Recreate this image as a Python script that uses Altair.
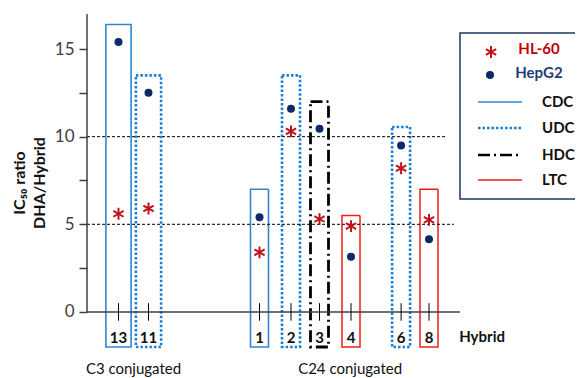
import altair as alt
import pandas as pd

# ---------------- data ----------------
hybrids = ["13", "11", "1", "2", "3", "4", "6", "8"]
positions = [1.05, 2.05, 5.75, 6.8, 7.75, 8.8, 10.47, 11.4]
groups = ["C3", "C3", "C24", "C24", "C24", "C24", "C24", "C24"]
box_types = ["CDC", "UDC", "CDC", "UDC", "HDC", "LTC", "UDC", "LTC"]
box_tops = [16.4, 13.5, 7.0, 13.5, 12.0, 5.5, 10.55, 7.0]
hl60 = [5.6, 5.9, 3.4, 10.3, 5.3, 4.9, 8.2, 5.25]
hepg2 = [15.4, 12.5, 5.4, 11.6, 10.45, 3.15, 9.5, 4.15]

group_labels = ["C3 conjugated", "C24 conjugated"]
group_centers = [1.55, 8.77]
thresholds = [5, 10]
threshold_ends = [12.23, 11.97]
y_ticks = [0, 2.5, 5, 7.5, 10, 12.5, 15]
series_labels = ["HL-60", "HepG2"]
type_labels = ["CDC", "UDC", "HDC", "LTC"]
y_title = ["IC\u2085\u2080 ratio", "DHA/Hybrid"]

# ---------------- styles ----------------
FONT = "Lato"
RED = "#c0141c"
NAVY = "#0c2a66"
AXIS = "#404040"
half_width = {"C3": 0.42, "C24": 0.3}
box_bottom = -2.0
type_style = {
    "CDC": dict(stroke="#2f86d2", strokeDash=[1, 0], strokeWidth=1.6),
    "UDC": dict(stroke="#1a7fd6", strokeDash=[2.5, 2], strokeWidth=2.6),
    "HDC": dict(stroke="#000000", strokeDash=[12, 4, 2, 4], strokeWidth=2.8),
    "LTC": dict(stroke="#f01c1c", strokeDash=[1, 0], strokeWidth=1.5),
}
ASTERISK = "M0,-1L0,1M-0.866,-0.5L0.866,0.5M-0.866,0.5L0.866,-0.5"

W, H = 488, 364
xs = alt.Scale(domain=[0, W / 30.0], nice=False, zero=False)
ys = alt.Scale(domain=[-3.77, 17], nice=False, zero=False)
y_axis = alt.Axis(values=y_ticks, labelExpr="datum.value % 5 == 0 ? datum.label : ''",
                  domain=False, grid=False, tickSize=8, tickWidth=1.5, tickColor=AXIS,
                  labelFontSize=17, labelColor=AXIS, labelFont=FONT, labelPadding=5,
                  labelOverlap=False, title=None)


def X(f):
    return alt.X(f, type="quantitative", scale=xs, axis=None)


def Y(f):
    return alt.Y(f, type="quantitative", scale=ys, axis=y_axis)


df = pd.DataFrame({"hybrid": hybrids, "pos": positions, "group": groups,
                   "type": box_types, "top": box_tops, "hl60": hl60, "hepg2": hepg2})
df["xl"] = [p - half_width[g] for p, g in zip(positions, groups)]
df["xr"] = [p + half_width[g] for p, g in zip(positions, groups)]
df["bottom"] = box_bottom
df["t_lo"] = -0.5
df["t_hi"] = 0.5
df["lab_y"] = -1.5

one = pd.DataFrame({"a": [0]})

layers = []

# boxes
for t in type_labels:
    layers.append(
        alt.Chart(df).transform_filter(alt.datum.type == t)
        .mark_rect(fillOpacity=0, **type_style[t])
        .encode(x=X("xl"), x2="xr", y=Y("bottom"), y2="top")
    )

# threshold dashed lines
thr = pd.DataFrame({"t": thresholds, "end": threshold_ends, "start": [0, 0]})
layers.append(
    alt.Chart(thr).mark_rule(color="#000000", strokeWidth=1, strokeDash=[3, 2])
    .encode(x=X("start"), x2="end", y=Y("t"))
)

# axis lines
axes_df = pd.DataFrame({"x0": [0], "x1": [12.43], "y0": [0], "y1": [17]})
layers.append(alt.Chart(axes_df).mark_rule(color=AXIS, strokeWidth=1.5)
              .encode(x=X("x0"), x2="x1", y=Y("y0")))
layers.append(alt.Chart(axes_df).mark_rule(color=AXIS, strokeWidth=1.5)
              .encode(x=X("x0"), y=Y("y0"), y2="y1"))

# x tick marks crossing the axis
layers.append(alt.Chart(df).mark_rule(color="#000000", strokeWidth=1)
              .encode(x=X("pos"), y=Y("t_lo"), y2="t_hi"))

# x tick labels
layers.append(alt.Chart(df).mark_text(font=FONT, fontSize=15, fontWeight="bold",
                                      color="#111111", baseline="middle")
              .encode(x=X("pos"), y=Y("lab_y"), text="hybrid:N"))

# Hybrid label
hyb = pd.DataFrame({"x": [13.17], "y": [-1.45], "txt": ["Hybrid"]})
layers.append(alt.Chart(hyb).mark_text(font=FONT, fontSize=15, fontWeight="bold",
                                       color="#111111", baseline="middle")
              .encode(x=X("x"), y=Y("y"), text="txt:N"))

# group labels
grp = pd.DataFrame({"x": group_centers, "y": [-3.25, -3.25], "txt": group_labels})
layers.append(alt.Chart(grp).mark_text(font=FONT, fontSize=15, color="#111111",
                                       baseline="middle")
              .encode(x=X("x"), y=Y("y"), text="txt:N"))

# points
layers.append(alt.Chart(df).mark_point(shape=ASTERISK, filled=False, stroke=RED,
                                       strokeWidth=2, size=140, opacity=1)
              .encode(x=X("pos"), y=Y("hl60")))
layers.append(alt.Chart(df).mark_point(shape="circle", filled=True, color=NAVY,
                                       size=64, opacity=1)
              .encode(x=X("pos"), y=Y("hepg2")))

# y title (two lines, rotated)
for i, line in enumerate(y_title):
    layers.append(alt.Chart(one).mark_text(font=FONT, fontSize=16, fontWeight="bold",
                                           color="#111111", angle=270,
                                           align="center", baseline="middle")
                  .encode(x=alt.value(-67 + 20 * i), y=alt.value(169), text=alt.value(line)))

# legend
layers.append(alt.Chart(one).mark_rect(fillOpacity=0, stroke="#1f3568", strokeWidth=1.5)
              .encode(x=alt.value(373), x2=alt.value(530), y=alt.value(19), y2=alt.value(185)))
layers.append(alt.Chart(one).mark_point(shape=ASTERISK, filled=False, stroke=RED,
                                        strokeWidth=2, size=140, opacity=1)
              .encode(x=alt.value(404), y=alt.value(38)))
layers.append(alt.Chart(one).mark_point(shape="circle", filled=True, color=NAVY,
                                        size=64, opacity=1)
              .encode(x=alt.value(403), y=alt.value(61)))
for lab, col, yy in zip(series_labels, ["#c00000", "#1f3a7a"], [35, 59]):
    layers.append(alt.Chart(one).mark_text(font=FONT, fontSize=15, fontWeight="bold",
                                           color=col, align="center", baseline="middle")
                  .encode(x=alt.value(452), y=alt.value(yy), text=alt.value(lab)))
for i, t in enumerate(type_labels):
    yy = [88, 114, 141, 166][i]
    st = type_style[t]
    layers.append(alt.Chart(one).mark_rule(stroke=st["stroke"], strokeDash=st["strokeDash"],
                                           strokeWidth=min(st["strokeWidth"], 2.4))
                  .encode(x=alt.value(391), x2=alt.value(435), y=alt.value(yy)))
    layers.append(alt.Chart(one).mark_text(font=FONT, fontSize=15, fontWeight="bold",
                                           color="#111111", align="left", baseline="middle")
                  .encode(x=alt.value(455), y=alt.value(yy), text=alt.value(t)))

chart = alt.layer(*layers).properties(
    width=W, height=H,
    padding={"left": 79, "top": 6, "right": 0, "bottom": 0},
    autosize=alt.AutoSizeParams(type="none"),
    background="white",
).configure_view(stroke=None)

chart.save("out.html", embed_options={"renderer": "svg", "actions": False})
